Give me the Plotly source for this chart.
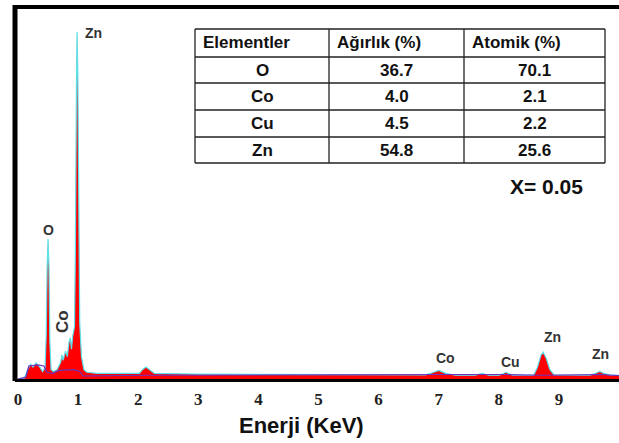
import plotly.graph_objects as go

# --- spectrum data (energy keV, relative counts; 100 = frame top) ---
energy = [0.00, 0.11, 0.16, 0.21, 0.25, 0.30, 0.35, 0.41, 0.45, 0.47, 0.485, 0.50, 0.515, 0.53, 0.55,
          0.59, 0.65, 0.71, 0.73, 0.75, 0.79, 0.82, 0.85, 0.87, 0.89, 0.91, 0.94, 0.955, 0.972, 0.983,
          0.995, 1.012, 1.027, 1.056, 1.096, 1.145, 1.32, 1.80, 2.02, 2.07, 2.13, 2.19, 2.27, 3.00, 5.00,
          6.78, 6.88, 7.00, 7.12, 7.28, 7.61, 7.72, 7.83, 8.01, 8.12, 8.23, 8.58, 8.64, 8.70, 8.74,
          8.79, 8.85, 8.92, 9.52, 9.62, 9.68, 9.75, 9.87, 10.10]
counts = [0.0, 0.3, 2.5, 4.0, 3.2, 4.3, 3.5, 2.0, 3.0, 12.0, 30.0, 37.5, 30.0, 10.0, 2.5,
          2.0, 2.5, 4.5, 6.5, 5.0, 7.5, 6.0, 10.0, 11.0, 8.0, 11.5, 14.0, 35.0, 78.0, 93.0,
          82.0, 45.0, 15.0, 6.0, 2.5, 1.8, 1.5, 1.5, 1.5, 2.5, 3.2, 2.5, 1.5, 1.3, 1.2,
          1.1, 1.6, 2.3, 1.5, 1.0, 1.0, 1.5, 1.0, 1.0, 1.8, 1.0, 1.0, 3.0, 6.3, 7.2,
          5.5, 2.5, 1.1, 1.0, 1.6, 2.0, 1.5, 1.0, 1.0]

bg_energy = [0.00, 0.13, 0.18, 0.33, 0.43, 0.48, 0.58, 0.68, 0.93, 1.03, 1.08, 2.13, 7.00, 7.72, 8.12, 8.74, 9.68, 10.10]
bg_counts = [0.0, 0.5, 3.5, 3.8, 3.5, 1.8, 1.5, 2.3, 2.5, 2.0, 0.8, 1.0, 1.2, 1.3, 1.2, 1.0, 1.2, 0.8]

# peak labels
peak_names = ["Zn", "O", "Co", "Co", "Cu", "Zn", "Zn"]
peak_x = [1.25, 0.50, 0.75, 7.12, 8.19, 8.89, 9.70]
peak_y = [92.8, 40.0, 15.3, 5.6, 4.6, 11.3, 6.7]
peak_angle = [0, 0, -90, 0, 0, 0, 0]
peak_size = [14, 14, 17, 14, 14, 14, 14]

# composition table
tbl_header = ["Elementler", "Ağırlık (%)", "Atomik (%)"]
tbl_elements = ["O", "Co", "Cu", "Zn"]
tbl_weight = ["36.7", "4.0", "4.5", "54.8"]
tbl_atomic = ["70.1", "2.1", "2.2", "25.6"]

xticks = list(range(0, 11))

fig = go.Figure()
fig.add_trace(go.Scatter(x=energy, y=counts, mode="lines", fill="tozeroy",
                         fillcolor="rgb(255,0,0)",
                         line=dict(color="rgb(90,225,235)", width=1.2),
                         hoverinfo="skip", showlegend=False))
fig.add_trace(go.Scatter(x=bg_energy, y=bg_counts, mode="lines",
                         line=dict(color="rgb(110,50,190)", width=1.2),
                         hoverinfo="skip", showlegend=False))

L, R, T, B = 15, 0, 6, 64
W, H = 619, 443
pw, ph = W - L - R, H - T - B

for n, x, y, a, s in zip(peak_names, peak_x, peak_y, peak_angle, peak_size):
    fig.add_annotation(x=x, y=y, text="<b>%s</b>" % n, showarrow=False, textangle=a,
                       xanchor="center", yanchor="middle",
                       font=dict(family="Liberation Sans", size=s, color="#333"))

# table drawn with shapes + annotations
col_px = [195, 329, 464, 605]
row_px = [29, 57, 83, 110, 137, 163]
def px2x(px):
    return (px - L) / pw
def py2y(py):
    return (H - B - py) / ph

line_style = dict(color="#222", width=1.3)
for cx in col_px:
    fig.add_shape(type="line", xref="paper", yref="paper", x0=px2x(cx), x1=px2x(cx),
                  y0=py2y(row_px[0]), y1=py2y(row_px[-1]), line=line_style)
for ry in row_px:
    fig.add_shape(type="line", xref="paper", yref="paper", x0=px2x(col_px[0]), x1=px2x(col_px[-1]),
                  y0=py2y(ry), y1=py2y(ry), line=line_style)

tfont = dict(family="Liberation Sans", size=17, color="#111")
for i, h in enumerate(tbl_header):
    fig.add_annotation(xref="paper", yref="paper", x=px2x(col_px[i] + 6),
                       y=py2y((row_px[0] + row_px[1]) / 2), text="<b>%s</b>" % h,
                       showarrow=False, xanchor="left", yanchor="middle", font=tfont)
rows = list(zip(tbl_elements, tbl_weight, tbl_atomic))
for r, row in enumerate(rows):
    for c, val in enumerate(row):
        fig.add_annotation(xref="paper", yref="paper",
                           x=px2x((col_px[c] + col_px[c + 1]) / 2),
                           y=py2y((row_px[r + 1] + row_px[r + 2]) / 2),
                           text="<b>%s</b>" % val, showarrow=False,
                           xanchor="center", yanchor="middle", font=tfont)

fig.add_annotation(xref="paper", yref="paper", x=px2x(546), y=py2y(186),
                   text="<b>X= 0.05</b>", showarrow=False, xanchor="center", yanchor="middle",
                   font=dict(family="Liberation Sans", size=21, color="#111"))

fig.add_annotation(xref="paper", yref="paper", x=px2x(301), y=py2y(425),
                   text="<b>Enerji (KeV)</b>", showarrow=False, xanchor="center", yanchor="middle",
                   font=dict(family="Liberation Sans", size=22, color="#111"))

# frame: top and left thick borders
fig.add_shape(type="line", xref="paper", yref="paper", x0=0, x1=1.0, y0=py2y(7), y1=py2y(7),
              line=dict(color="black", width=4))
fig.add_shape(type="line", xref="paper", yref="paper", x0=px2x(15), x1=px2x(15), y0=py2y(5), y1=py2y(381),
              line=dict(color="black", width=5))

fig.update_layout(
    width=W, height=H,
    margin=dict(l=L, r=R, t=T, b=B),
    paper_bgcolor="white", plot_bgcolor="white",
    xaxis=dict(range=[-0.05, 10.0], tickvals=xticks,
               ticktext=[str(t) for t in xticks],
               showgrid=False, zeroline=False, showline=True, linecolor="black", linewidth=3,
               ticks="", ticklabelstandoff=3,
               tickfont=dict(family="Liberation Serif", size=17, color="#222", weight="bold"),
               fixedrange=True),
    yaxis=dict(range=[0, 100], showgrid=False, zeroline=False, showticklabels=False,
               showline=False, fixedrange=True),
)
fig.write_html("out.html")
